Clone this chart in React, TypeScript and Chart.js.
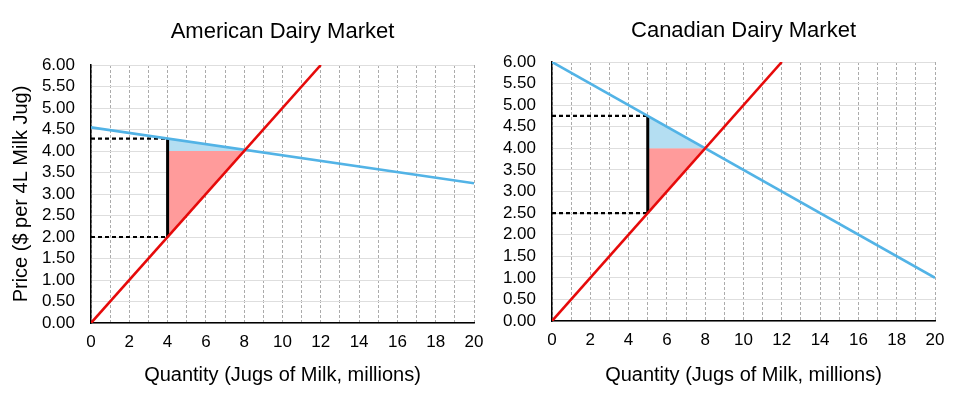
import { useEffect, useRef } from "react";
import { Chart, registerables } from "chart.js";

Chart.register(...registerables);

const FONT = '"Liberation Sans", Arial, Helvetica, sans-serif';

// Shared axis settings
const xMin = 0;
const xMax = 20;
const xStep = 1;
const yMin = 0;
const yMax = 6;
const yStep = 0.5;
const xAxisTitle = "Quantity (Jugs of Milk, millions)";
const yAxisTitle = "Price ($ per 4L Milk Jug)";

// American market
const usTitle = "American Dairy Market";
const usDemandQ = [0, 20];
const usDemandP = [4.55, 3.25];
const usSupplyQ = [0, 12];
const usSupplyP = [0, 6];
const usQuotaQ = [4, 4];
const usQuotaP = [2.0, 4.29];
const usUpperDashQ = [0, 4];
const usUpperDashP = [4.29, 4.29];
const usLowerDashQ = [0, 4];
const usLowerDashP = [2.0, 2.0];
const usBlueAreaQ = [4, 8, 8, 4];
const usBlueAreaP = [4.29, 4.03, 4.0, 4.0];
const usRedAreaQ = [4, 8, 4];
const usRedAreaP = [4.0, 4.0, 2.0];

// Canadian market
const caTitle = "Canadian Dairy Market";
const caDemandQ = [0, 20];
const caDemandP = [6, 1];
const caSupplyQ = [0, 12];
const caSupplyP = [0, 6];
const caQuotaQ = [5, 5];
const caQuotaP = [2.5, 4.75];
const caUpperDashQ = [0, 5];
const caUpperDashP = [4.75, 4.75];
const caLowerDashQ = [0, 5];
const caLowerDashP = [2.5, 2.5];
const caBlueAreaQ = [5, 8, 5];
const caBlueAreaP = [4.75, 4.0, 4.0];
const caRedAreaQ = [5, 8, 5];
const caRedAreaP = [4.0, 4.0, 2.5];

const BLUE = "#52b3e6";
const RED = "#e60a0a";
const BLUE_FILL = "#b4def2";
const RED_FILL = "#ff9b9b";

const pts = (qs: number[], ps: number[]) => qs.map((q, i) => ({ x: q, y: ps[i] }));

type MarketSpec = {
  title: string;
  titleY: number;
  demand: [number[], number[]];
  supply: [number[], number[]];
  quota: [number[], number[]];
  upper: [number[], number[]];
  lower: [number[], number[]];
  blue: [number[], number[]];
  red: [number[], number[]];
  yAxisWidth: number;
  xAxisHeight: number;
  padTop: number;
  padRight: number;
  showYTitle: boolean;
};

const usSpec: MarketSpec = {
  title: usTitle,
  titleY: 38,
  demand: [usDemandQ, usDemandP],
  supply: [usSupplyQ, usSupplyP],
  quota: [usQuotaQ, usQuotaP],
  upper: [usUpperDashQ, usUpperDashP],
  lower: [usLowerDashQ, usLowerDashP],
  blue: [usBlueAreaQ, usBlueAreaP],
  red: [usRedAreaQ, usRedAreaP],
  yAxisWidth: 91,
  xAxisHeight: 73,
  padTop: 65,
  padRight: 26,
  showYTitle: true,
};

const caSpec: MarketSpec = {
  title: caTitle,
  titleY: 37,
  demand: [caDemandQ, caDemandP],
  supply: [caSupplyQ, caSupplyP],
  quota: [caQuotaQ, caQuotaP],
  upper: [caUpperDashQ, caUpperDashP],
  lower: [caLowerDashQ, caLowerDashP],
  blue: [caBlueAreaQ, caBlueAreaP],
  red: [caRedAreaQ, caRedAreaP],
  yAxisWidth: 70,
  xAxisHeight: 75,
  padTop: 62,
  padRight: 29,
  showYTitle: false,
};

function buildConfig(spec: MarketSpec): any {
  const titlePlugin = {
    id: "centeredTitle",
    afterDraw(chart: any) {
      const { ctx, chartArea } = chart;
      ctx.save();
      ctx.font = `22px ${FONT}`;
      ctx.fillStyle = "#000";
      ctx.textAlign = "center";
      ctx.textBaseline = "alphabetic";
      ctx.fillText(spec.title, (chartArea.left + chartArea.right) / 2, spec.titleY);
      ctx.restore();
    },
  };
  const line = (data: [number[], number[]], color: string, width: number, order: number, dash: number[] = []) => ({
    data: pts(data[0], data[1]),
    borderColor: color,
    borderWidth: width,
    borderDash: dash,
    pointRadius: 0,
    fill: false,
    tension: 0,
    order,
  });
  const area = (data: [number[], number[]], color: string) => ({
    data: pts(data[0], data[1]),
    borderColor: "rgba(0,0,0,0)",
    borderWidth: 0,
    backgroundColor: color,
    pointRadius: 0,
    fill: "shape",
    tension: 0,
    order: 10,
  });
  return {
    type: "line",
    data: {
      datasets: [
        area(spec.blue, BLUE_FILL),
        area(spec.red, RED_FILL),
        line(spec.upper, "#000", 2.2, 3, [4, 3]),
        line(spec.lower, "#000", 2.2, 3, [4, 3]),
        line(spec.quota, "#000", 3, 2),
        line(spec.demand, BLUE, 2.6, 1),
        line(spec.supply, RED, 2.6, 0),
      ],
    },
    options: {
      responsive: false,
      animation: false,
      events: [],
      layout: { padding: { left: 0, right: spec.padRight, top: spec.padTop, bottom: 0 } },
      plugins: {
        legend: { display: false },
        title: { display: false },
        tooltip: { enabled: false },
      },
      scales: {
        x: {
          type: "linear",
          min: xMin,
          max: xMax,
          afterFit(scale: any) {
            scale.height = spec.xAxisHeight;
            scale.paddingLeft = 0;
            scale.paddingRight = 0;
          },
          ticks: {
            stepSize: xStep,
            autoSkip: false,
            maxRotation: 0,
            padding: 9,
            color: "#000",
            font: { family: FONT, size: 17 },
            callback: (v: number) => (v % 2 === 0 ? String(v) : ""),
          },
          grid: { color: "#ababab", lineWidth: 1, drawTicks: false },
          border: { display: true, color: "#000", width: 1.5, dash: [3, 2] },
          title: {
            display: true,
            text: xAxisTitle,
            color: "#000",
            font: { family: FONT, size: 20 },
            padding: { top: 0, bottom: 9 },
          },
        },
        y: {
          type: "linear",
          min: yMin,
          max: yMax,
          afterFit(scale: any) {
            scale.width = spec.yAxisWidth;
            scale.paddingTop = 0;
            scale.paddingBottom = 0;
          },
          ticks: {
            stepSize: yStep,
            autoSkip: false,
            padding: 16,
            color: "#000",
            font: { family: FONT, size: 17 },
            callback: (v: number) => Number(v).toFixed(2),
          },
          grid: { color: "#dedede", lineWidth: 1, drawTicks: false },
          border: { display: true, color: "#000", width: 1.5 },
          title: {
            display: spec.showYTitle,
            text: yAxisTitle,
            color: "#000",
            font: { family: FONT, size: 20 },
            padding: { top: 9, bottom: 0 },
          },
        },
      },
    },
    plugins: [titlePlugin],
  };
}

function MarketChart({ spec, left, width }: { spec: MarketSpec; left: number; width: number }) {
  const ref = useRef<HTMLCanvasElement | null>(null);
  useEffect(() => {
    if (!ref.current) return;
    const chart = new Chart(ref.current, buildConfig(spec));
    return () => chart.destroy();
  }, [spec]);
  return (
    <canvas
      ref={ref}
      width={width}
      height={396}
      style={{ position: "absolute", left, top: 0, width, height: 396 }}
    />
  );
}

export default function App() {
  return (
    <div style={{ position: "fixed", left: 0, top: 0, width: 964, height: 396, background: "#fff" }}>
      <MarketChart spec={usSpec} left={0} width={500} />
      <MarketChart spec={caSpec} left={482} width={482} />
    </div>
  );
}
